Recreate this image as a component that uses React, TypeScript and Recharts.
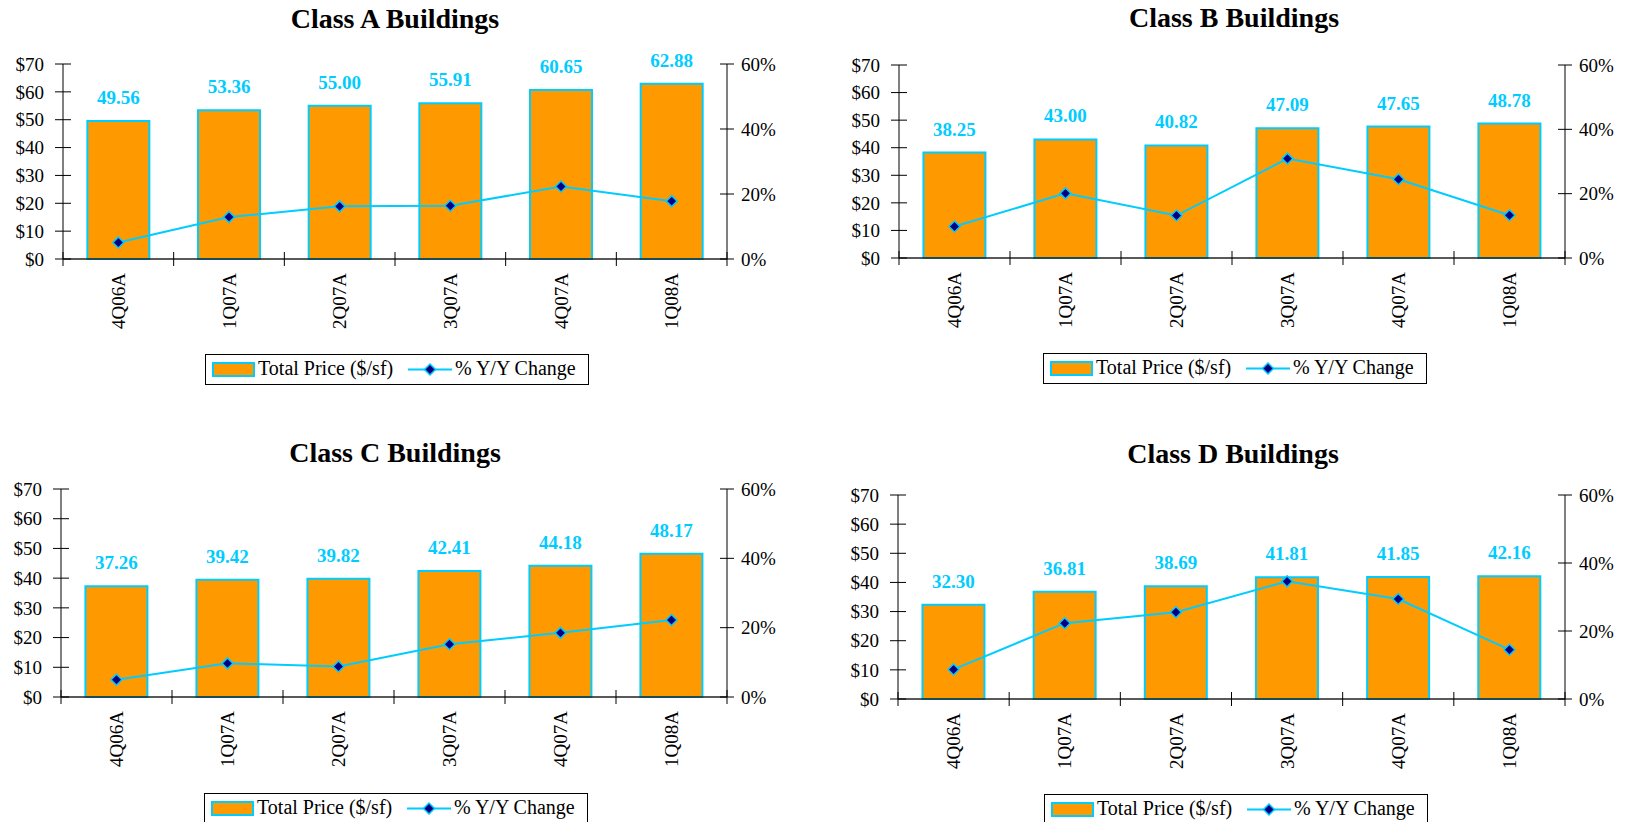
import React from 'react';
import { ComposedChart, Bar, Line, XAxis, YAxis, Legend, LabelList } from 'recharts';

const categories = ['4Q06A', '1Q07A', '2Q07A', '3Q07A', '4Q07A', '1Q08A'];

const priceA = [49.56, 53.36, 55.0, 55.91, 60.65, 62.88];
const pctA = [5.1, 12.9, 16.2, 16.4, 22.3, 17.8];
const priceB = [38.25, 43.0, 40.82, 47.09, 47.65, 48.78];
const pctB = [9.8, 20.1, 13.2, 30.9, 24.5, 13.3];
const priceC = [37.26, 39.42, 39.82, 42.41, 44.18, 48.17];
const pctC = [5.0, 9.7, 8.8, 15.2, 18.5, 22.2];
const priceD = [32.3, 36.81, 38.69, 41.81, 41.85, 42.16];
const pctD = [8.7, 22.3, 25.5, 34.6, 29.4, 14.5];

const priceTicks = [0, 10, 20, 30, 40, 50, 60, 70];
const pctTicks = [0, 20, 40, 60];

const titles = ['Class A Buildings', 'Class B Buildings', 'Class C Buildings', 'Class D Buildings'];
const seriesNames = ['Total Price ($/sf)', '% Y/Y Change'];

const ORANGE = '#FF9900';
const CYAN = '#00CCFF';
const NAVY = '#000080';
const FONT = '"Liberation Serif", "Times New Roman", serif';

const buildRows = (prices: number[], pcts: number[]) =>
  categories.map((c, i) => ({ cat: c, price: prices[i], pct: pcts[i] }));

type Panel = {
  title: string;
  rows: { cat: string; price: number; pct: number }[];
  box: { x: number; y: number; w: number; h: number };
  plot: { l: number; r: number; t: number; b: number };
  titleBase: number;
  titleCx: number;
  legend: { x: number; y: number };
};

const panels: Panel[] = [
  {
    title: titles[0],
    rows: buildRows(priceA, pctA),
    box: { x: 0, y: 0, w: 812, h: 411 },
    plot: { l: 63, r: 727, t: 64, b: 259 },
    titleBase: 28,
    titleCx: 395,
    legend: { x: 205, y: 354 },
  },
  {
    title: titles[1],
    rows: buildRows(priceB, pctB),
    box: { x: 812, y: 0, w: 813, h: 411 },
    plot: { l: 899, r: 1565, t: 65, b: 258 },
    titleBase: 27,
    titleCx: 1234,
    legend: { x: 1043, y: 353 },
  },
  {
    title: titles[2],
    rows: buildRows(priceC, pctC),
    box: { x: 0, y: 411, w: 812, h: 411 },
    plot: { l: 61, r: 727, t: 489, b: 697 },
    titleBase: 462,
    titleCx: 395,
    legend: { x: 204, y: 793 },
  },
  {
    title: titles[3],
    rows: buildRows(priceD, pctD),
    box: { x: 812, y: 411, w: 813, h: 411 },
    plot: { l: 898, r: 1565, t: 495, b: 699 },
    titleBase: 463,
    titleCx: 1233,
    legend: { x: 1044, y: 794 },
  },
];

const LeftTick = (props: any) => {
  const { x, y, payload } = props;
  return (
    <g>
      <line x1={x - 8} x2={x + 8} y1={y} y2={y} stroke="#000" strokeWidth={1} />
      <text x={x - 19} y={y} dy="0.35em" textAnchor="end" fontSize={19} fontFamily={FONT} fill="#000">
        {`$${payload.value}`}
      </text>
    </g>
  );
};

const RightTick = (props: any) => {
  const { x, y, payload } = props;
  return (
    <g>
      <line x1={x - 7} x2={x + 7} y1={y} y2={y} stroke="#000" strokeWidth={1} />
      <text x={x + 14} y={y} dy="0.35em" textAnchor="start" fontSize={19} fontFamily={FONT} fill="#000">
        {`${payload.value}%`}
      </text>
    </g>
  );
};

const CatTick = (props: any) => {
  const { x, y, payload, index, visibleTicksCount } = props;
  const off = payload.offset || 0;
  const last = index === visibleTicksCount - 1;
  return (
    <g>
      <line x1={x - off} x2={x - off} y1={y - 7} y2={y + 7} stroke="#000" strokeWidth={1} />
      {last ? <line x1={x + off} x2={x + off} y1={y - 7} y2={y + 7} stroke="#000" strokeWidth={1} /> : null}
      <text
        transform={`translate(${x},${y + 14}) rotate(-90)`}
        textAnchor="end"
        dy="0.35em"
        fontSize={19}
        fontFamily={FONT}
        fill="#000"
      >
        {payload.value}
      </text>
    </g>
  );
};

const Diamond = (props: any) => {
  const { cx, cy } = props;
  if (cx == null || cy == null) return null;
  const s = 5.5;
  return (
    <polygon
      points={`${cx},${cy - s} ${cx + s},${cy} ${cx},${cy + s} ${cx - s},${cy}`}
      fill={NAVY}
      stroke={CYAN}
      strokeWidth={1.5}
    />
  );
};

const BarLabel = (props: any) => {
  const { x, y, width, value } = props;
  return (
    <text
      x={x + width / 2}
      y={y - 17}
      textAnchor="middle"
      fontSize={19}
      fontWeight="bold"
      fontFamily={FONT}
      fill={CYAN}
    >
      {Number(value).toFixed(2)}
    </text>
  );
};

const LegendBox = () => (
  <svg width={384} height={31} style={{ display: 'block' }}>
    <rect x={0.5} y={0.5} width={383} height={30} fill="#fff" stroke="#000" strokeWidth={1} />
    <rect x={8} y={9} width={41} height={13} fill={ORANGE} stroke={CYAN} strokeWidth={2} />
    <text x={53} y={21} fontSize={20} fontFamily={FONT} fill="#000">
      {seriesNames[0]}
    </text>
    <line x1={203} x2={247} y1={15.5} y2={15.5} stroke={CYAN} strokeWidth={2} />
    <polygon points="225,10 230.5,15.5 225,21 219.5,15.5" fill={NAVY} stroke={CYAN} strokeWidth={1.5} />
    <text x={250} y={21} fontSize={20} fontFamily={FONT} fill="#000">
      {seriesNames[1]}
    </text>
  </svg>
);

const PanelChart = ({ p }: { p: Panel }) => {
  const leftW = p.plot.l - p.box.x;
  const rightW = p.box.x + p.box.w - p.plot.r;
  const topM = p.plot.t - p.box.y;
  const xH = p.box.y + p.box.h - p.plot.b;
  return (
    <div style={{ position: 'absolute', left: p.box.x, top: p.box.y, width: p.box.w, height: p.box.h }}>
      <ComposedChart
        width={p.box.w}
        height={p.box.h}
        data={p.rows}
        margin={{ top: topM, right: 0, bottom: 0, left: 0 }}
        barCategoryGap="22%"
        style={{ fontFamily: FONT }}
      >
        <text
          x={p.titleCx - p.box.x}
          y={p.titleBase - p.box.y}
          textAnchor="middle"
          fontSize={28}
          fontWeight="bold"
          fontFamily={FONT}
          fill="#000"
        >
          {p.title}
        </text>
        <XAxis
          dataKey="cat"
          xAxisId="cat"
          height={xH}
          interval={0}
          tickSize={0}
          tickMargin={0}
          tickLine={false}
          tick={<CatTick />}
          axisLine={{ stroke: '#222', strokeWidth: 1.5 }}
        />
        <YAxis
          yAxisId="price"
          orientation="left"
          width={leftW}
          domain={[0, 70]}
          ticks={priceTicks}
          interval={0}
          tickSize={0}
          tickMargin={0}
          tickLine={false}
          tick={<LeftTick />}
          axisLine={{ stroke: '#000', strokeWidth: 1 }}
        />
        <YAxis
          yAxisId="pct"
          orientation="right"
          width={rightW}
          domain={[0, 60]}
          ticks={pctTicks}
          interval={0}
          tickSize={0}
          tickMargin={0}
          tickLine={false}
          tick={<RightTick />}
          axisLine={{ stroke: '#000', strokeWidth: 1 }}
        />
        <Bar
          xAxisId="cat"
          yAxisId="price"
          dataKey="price"
          name={seriesNames[0]}
          fill={ORANGE}
          stroke={CYAN}
          strokeWidth={2}
          isAnimationActive={false}
        >
          <LabelList dataKey="price" content={<BarLabel />} />
        </Bar>
        <Line
          xAxisId="cat"
          yAxisId="pct"
          dataKey="pct"
          name={seriesNames[1]}
          stroke={CYAN}
          strokeWidth={2}
          dot={<Diamond />}
          activeDot={false}
          isAnimationActive={false}
        />
        <Legend
          layout="horizontal"
          verticalAlign="middle"
          align="center"
          content={<LegendBox />}
          wrapperStyle={{
            top: p.legend.y - p.box.y,
            left: p.legend.x - p.box.x,
            width: 384,
            height: 31,
          }}
        />
      </ComposedChart>
    </div>
  );
};

export default function App() {
  return (
    <div
      style={{
        position: 'absolute',
        left: 0,
        top: 0,
        width: 1625,
        height: 822,
        background: '#fff',
        overflow: 'hidden',
      }}
    >
      {panels.map((p) => (
        <PanelChart key={p.title} p={p} />
      ))}
    </div>
  );
}
